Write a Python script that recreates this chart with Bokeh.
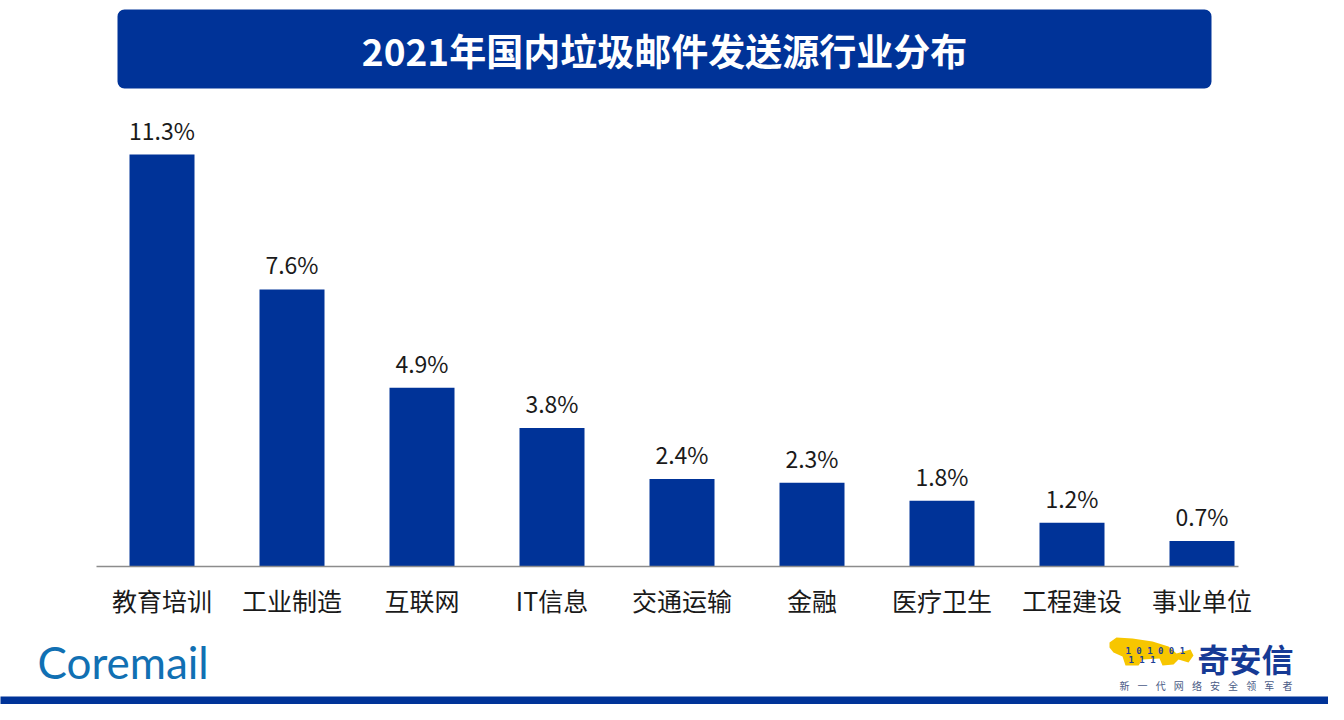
from bokeh.plotting import figure
from bokeh.models import ColumnDataSource, BoxAnnotation
from bokeh.core.properties import value
from bokeh.embed import file_html
from bokeh.resources import INLINE

# ---------------- data ----------------
categories = ["教育培训", "工业制造", "互联网", "IT信息", "交通运输", "金融", "医疗卫生", "工程建设", "事业单位"]
shares = [11.3, 7.6, 4.9, 3.8, 2.4, 2.3, 1.8, 1.2, 0.7]
share_labels = ["11.3%", "7.6%", "4.9%", "3.8%", "2.4%", "2.3%", "1.8%", "1.2%", "0.7%"]
title_text = "2021年国内垃圾邮件发送源行业分布"
slogan = "新一代网络安全领军者"

# ---------------- layout constants (pixels) ----------------
W, H = 1328, 704
STEP = 130.0      # px per category
X0 = 161.5        # canvas x of first category centre
BASE = 566.0      # canvas y of the baseline
UNIT = 36.46      # px per percentage point
BLUE = "#003398"
CJK = value("Noto Sans CJK SC")


def dx(page_x):
    return (page_x - 8 - X0) / STEP


def dy(page_y):
    return (BASE - (page_y - 8)) / UNIT


p = figure(width=W, height=H, output_backend="svg", toolbar_location=None,
           x_range=(dx(8), dx(8 + W)), y_range=(dy(8 + H), dy(8)),
           x_axis_location=None, y_axis_location=None, min_border=0)
p.grid.grid_line_color = None
p.outline_line_color = None
p.background_fill_color = "white"
p.border_fill_color = "white"

src = ColumnDataSource(dict(x=list(range(len(categories))), share=shares,
                            label=share_labels, cat=categories))

# title banner
p.add_layout(BoxAnnotation(left=dx(125), right=dx(1219), top=dy(17), bottom=dy(96),
                           fill_color=BLUE, fill_alpha=1, line_color=None, border_radius=7,
                           level="underlay"))
p.text(x=[dx(672)], y=[dy(57)], text=[title_text], text_align="center", text_baseline="middle",
       text_font=CJK, text_font_style="bold", text_font_size="37px", text_color="white")

# bars
p.vbar(x="x", top="share", bottom=0, width=0.5, source=src, fill_color=BLUE, line_color=None)
p.segment(x0=[dx(104)], y0=[0], x1=[dx(1246)], y1=[0], line_color="#8c8c8c", line_width=1.5)

# value labels
p.text(x="x", y="share", text="label", source=src, text_align="center", text_baseline="bottom",
       y_offset=-8, text_font=CJK, text_font_size="23px", text_color="#1a1a1a")

# category labels
p.text(x="x", y=dy(607), text="cat", source=src, text_align="center", text_baseline="middle",
       text_font=CJK, text_font_size="25px", text_color="#1a1a1a")

# Coremail logo text
p.text(x=[dx(45)], y=[dy(669)], text=["Coremail"], text_align="left", text_baseline="middle",
       text_font=value("Lato"), text_font_size="44px", text_color="#1170B3")

# Qi An Xin logo (approximate)
tiger_px = [(1117, 650), (1124, 645), (1140, 646), (1160, 649), (1176, 654), (1184, 661),
            (1191, 659), (1198, 657), (1201, 663), (1196, 670), (1186, 667), (1181, 672),
            (1170, 673), (1167, 666), (1150, 667), (1146, 673), (1133, 673), (1130, 664),
            (1121, 660), (1117, 655)]
p.patch(x=[dx(a) for a, b in tiger_px], y=[dy(b) for a, b in tiger_px],
        fill_color="#F7C600", line_color=None)
p.text(x=[dx(1133), dx(1136)], y=[dy(658), dy(667)], text=["1 0 1 0 0 1", "1 1  1"],
       text_align="left", text_baseline="middle", text_font=value("DejaVu Sans Mono"),
       text_font_style="bold", text_font_size="9px", text_color="#1d3f96")
p.text(x=[dx(1205)], y=[dy(665)], text=["奇安信"], text_align="left", text_baseline="middle",
       text_font=CJK, text_font_style="bold", text_font_size="32px", text_color="#163A95")
p.text(x=[dx(1132 + 18.1 * i) for i in range(len(slogan))], y=[dy(693)] * len(slogan),
       text=list(slogan), text_align="center", text_baseline="middle",
       text_font=CJK, text_font_size="10px", text_color="#4b5b86")

# bottom strip
p.quad(left=[dx(0)], right=[dx(1344)], top=[dy(704)], bottom=[dy(716)],
       fill_color=BLUE, line_color=None)

open("out.html", "w").write(file_html(p, INLINE))
